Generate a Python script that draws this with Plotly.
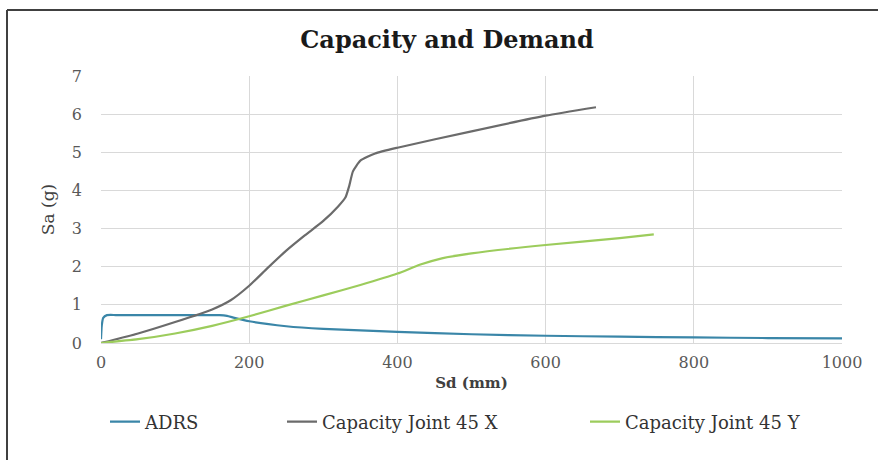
import plotly.graph_objects as go

# ---- data ----
adrs_sd = [0, 1, 3, 8, 20, 60, 100, 140, 160, 170, 180, 200, 250, 300, 350, 400, 500, 600, 700, 800, 900, 1000]
adrs_sa = [0.10, 0.45, 0.66, 0.73, 0.733, 0.733, 0.733, 0.733, 0.73, 0.71, 0.66, 0.57, 0.44, 0.37, 0.33, 0.29, 0.23, 0.19, 0.165, 0.145, 0.13, 0.12]

capx_sd = [0, 50, 100, 150, 175, 200, 225, 250, 275, 300, 320, 330, 335, 340, 350, 370, 400, 500, 600, 668]
capx_sa = [0, 0.25, 0.55, 0.88, 1.12, 1.5, 1.97, 2.42, 2.82, 3.2, 3.58, 3.82, 4.12, 4.5, 4.78, 4.97, 5.12, 5.55, 5.96, 6.18]

capy_sd = [0, 50, 100, 150, 200, 250, 300, 350, 400, 430, 460, 500, 600, 700, 746]
capy_sa = [0, 0.1, 0.25, 0.45, 0.7, 0.98, 1.25, 1.52, 1.82, 2.05, 2.22, 2.35, 2.57, 2.75, 2.85]

x_ticks = [0, 200, 400, 600, 800, 1000]
y_ticks = [0, 1, 2, 3, 4, 5, 6, 7]

series_names = ["ADRS", "Capacity Joint 45 X", "Capacity Joint 45 Y"]
series_colors = ["#3a86a8", "#6b6b6b", "#9ccc5c"]

FONT = "DejaVu Serif"
W, H = 878, 460
PL, PR, PT, PB = 101, 842, 76, 343   # plot-area pixel box


def px_x(p):
    return (p - PL) / (PR - PL)


def px_y(p):
    return (PB - p) / (PB - PT)


legend_ids = ["legend", "legend2", "legend3"]
legend_text_px = [145, 322, 625]      # where each legend label starts

fig = go.Figure()
for name, xs, ys, col, lid in zip(series_names,
                                  [adrs_sd, capx_sd, capy_sd],
                                  [adrs_sa, capx_sa, capy_sa],
                                  series_colors, legend_ids):
    fig.add_trace(go.Scatter(x=xs, y=ys, mode="lines", name=name, legend=lid,
                             line=dict(color=col, width=2.2, shape="spline", smoothing=0.5)))

legend_common = dict(orientation="h", xanchor="left", yanchor="middle",
                     y=px_y(422), borderwidth=0, tracegroupgap=0,
                     font=dict(family=FONT, size=18, color="#333333"),
                     bgcolor="rgba(0,0,0,0)")

fig.update_layout(
    width=W, height=H,
    margin=dict(l=PL, r=W - PR, t=PT, b=H - PB),
    paper_bgcolor="white", plot_bgcolor="white",
    font=dict(family=FONT, size=16, color="#595959"),
    title=dict(text="<b>Capacity and Demand</b>", x=(447 / W), xanchor="center",
               y=1 - 40 / H, yanchor="middle",
               font=dict(family=FONT, size=24, color="#1a1a1a")),
    xaxis=dict(range=[0, 1000], tickvals=x_ticks, showgrid=True, gridcolor="#d9d9d9",
               gridwidth=1, zeroline=False, showline=True, linecolor="#d9d9d9",
               ticks="", ticklabelstandoff=5,
               title=dict(text="<b>Sd (mm)</b>", standoff=6,
                          font=dict(family=FONT, size=15, color="#404040"))),
    yaxis=dict(range=[0, 7], tickvals=y_ticks, showgrid=True, gridcolor="#d9d9d9",
               gridwidth=1, zeroline=False, showline=False,
               ticks="", ticklabelstandoff=18,
               title=dict(text="Sa (g)", standoff=12,
                          font=dict(family=FONT, size=17, color="#404040"))),
    legend=dict(x=px_x(legend_text_px[0] - 40), **legend_common),
    legend2=dict(x=px_x(legend_text_px[1] - 40), **legend_common),
    legend3=dict(x=px_x(legend_text_px[2] - 40), **legend_common),
    showlegend=True,
)

# outer frame (left and top edges visible in reference)
fig.add_shape(type="line", xref="paper", yref="paper",
              x0=px_x(7), x1=px_x(878), y0=px_y(10), y1=px_y(10),
              line=dict(color="#404040", width=2))
fig.add_shape(type="line", xref="paper", yref="paper",
              x0=px_x(7), x1=px_x(7), y0=px_y(10), y1=px_y(462),
              line=dict(color="#404040", width=2))

fig.write_html("out.html")
